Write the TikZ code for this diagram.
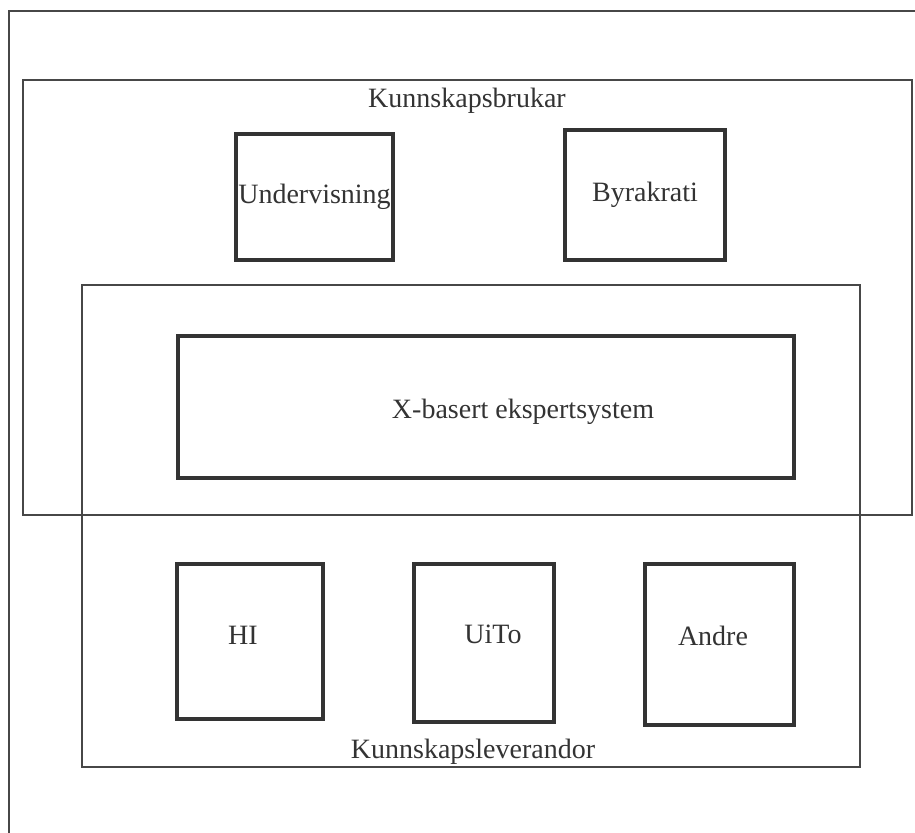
\documentclass[tikz,border=0pt]{standalone}
\usepackage{fontspec}
\setmainfont{Liberation Serif}
\begin{document}
\begin{tikzpicture}[x=0.5pt,y=-0.5pt,
  thinbox/.style={draw=black!72,line width=0.7pt},
  thickbox/.style={draw=black!80,line width=2pt,rectangle,inner sep=0pt,anchor=north west},
  lbl/.style={font=\fontsize{14}{16}\selectfont,text=black!80,inner sep=0pt}]
\useasboundingbox (0,0) rectangle (915,833);
% outer frame
\draw[thinbox] (9,833) -- (9,11) -- (915,11);
% Kunnskapsbrukar region
\draw[thinbox] (23,80) rectangle (912,515);
\node[lbl] (bruk) at (467,101) {Kunnskapsbrukar};
% Kunnskapsleverandor region
\draw[thinbox] (82,285) rectangle (860,767);
\node[lbl] (lev) at (473,752) {Kunnskapsleverandor};
% user boxes
\node[thickbox,minimum width=78.5pt,minimum height=63pt,font=\fontsize{14}{16}\selectfont,text=black!80] (und) at (234,132) {Undervisning};
\node[thickbox,minimum width=80pt,minimum height=65pt,font=\fontsize{14}{16}\selectfont,text=black!80] (byr) at (563,128) {Byrakrati};
% expert system
\node[thickbox,minimum width=308pt,minimum height=71pt] (xes) at (176,334) {};
\node[lbl] (xestxt) at (523,412) {X-basert ekspertsystem};
% supplier boxes
\node[thickbox,minimum width=73pt,minimum height=77.5pt] (hi) at (175,562) {};
\node[lbl] (hitxt) at (243,635) {HI};
\node[thickbox,minimum width=70pt,minimum height=79pt] (uito) at (412,562) {};
\node[lbl] (uitotxt) at (493,634) {UiTo};
\node[thickbox,minimum width=74.5pt,minimum height=80.5pt] (andre) at (643,562) {};
\node[lbl] (andretxt) at (713,636) {Andre};
\end{tikzpicture}
\end{document}
